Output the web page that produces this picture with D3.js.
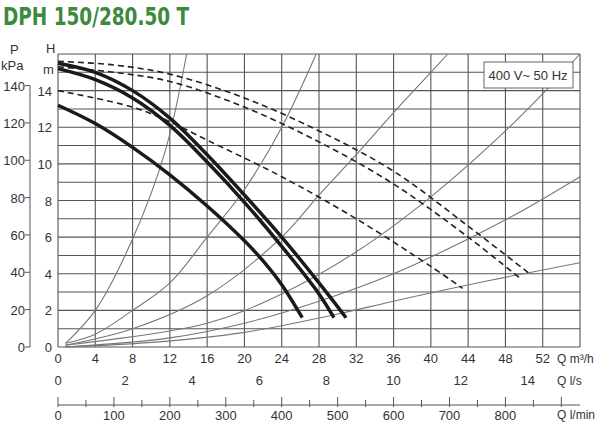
<!DOCTYPE html>
<html>
<head>
<meta charset="utf-8">
<script src="https://cdn.jsdelivr.net/npm/d3@7"></script>
<style>
  body { margin: 0; background: #fff; }
  text { font-family: "Liberation Sans", Arial, sans-serif; fill: #333; }
</style>
</head>
<body>
<script>
// pump curves, [Q m3/h, H m]
var solidTop = [[0,15.5],[4,15.0],[8,14.0],[12,12.5],[16,10.5],[20,8.3],[24,6.0],[28,3.5],[30.9,1.6]];
var solidMid = [[0,15.2],[4,14.6],[8,13.6],[12,12.1],[16,10.1],[20,7.9],[24,5.5],[28,2.9],[29.6,1.6]];
var solidLow = [[0,13.2],[4,12.2],[8,10.9],[12,9.4],[16,7.7],[20,5.8],[22,4.7],[24,3.4],[26.2,1.6]];
var dashTop = [[0,15.6],[6,15.4],[12,14.9],[20,13.6],[28,11.8],[36,9.6],[44,6.6],[50.6,4.0]];
var dashMid = [[0,15.3],[6,15.0],[12,14.5],[20,13.1],[28,11.2],[36,8.9],[44,6.0],[49.7,3.7]];
var dashLow = [[0,14.0],[8,13.1],[12,12.3],[16,11.3],[24,9.3],[32,7.0],[40,4.4],[43.4,3.2]];
// system curves
var sysA = [[0.8,0.2],[4,2.0],[8,5.9],[11.5,10.7],[13.8,16]];
var sysB = [[0.8,0.2],[4,0.7],[8,2.0],[12,3.5],[16,6.0],[20,8.6],[24,12.0],[27.7,16]];
var sysC = [[0.8,0.1],[8,1.0],[16,2.8],[24,6.0],[28,8.3],[32,10.5],[36,12.8],[40,15.0],[41.8,16]];
var sysD = [[0.8,0.1],[16,1.3],[24,2.9],[32,5.2],[40,8.2],[48,11.8],[52.5,14.1],[56,16]];
var sysE = [[0.8,0],[12,0.5],[20,1.3],[28,2.5],[36,4.0],[44,5.9],[50,7.5],[56,9.3]];
var sysF = [[0.8,0],[10,0.25],[20,0.8],[30,1.8],[36,2.5],[46,3.6],[56,4.6]];

var qTicks = [0,4,8,12,16,20,24,28,32,36,40,44,48,52];
var lsTicks = [0,2,4,6,8,10,12,14];
var lminTicks = [0,100,200,300,400,500,600,700,800];
var hTicks = [0,2,4,6,8,10,12,14];
var kpaTicks = [0,20,40,60,80,100,120,140];

var W = 600, H = 427;
var svg = d3.select("body").append("svg").attr("width", W).attr("height", H);

var x = d3.scaleLinear().domain([0, 56]).range([58, 580]);
var y = d3.scaleLinear().domain([0, 16]).range([347, 54]);
var xls = d3.scaleLinear().domain([0, 56 / 3.6]).range([58, 580]);
var xlm = d3.scaleLinear().domain([0, 56 / 0.06]).range([58, 580]);
var ykpa = d3.scaleLinear().domain([0, 16 / 0.10197]).range([347, 54]);

svg.append("text").attr("transform", "translate(3,25) scale(0.82,1)")
  .style("font-family", "'DejaVu Sans Condensed', sans-serif")
  .style("font-weight", "bold").style("font-size", "25px").style("fill", "#3b8a3e")
  .text("DPH 150/280.50 T");

// grid
var grid = svg.append("g").attr("stroke", "#555").attr("stroke-width", 1.1);
grid.selectAll(".v").data(d3.range(0, 57, 4)).enter().append("line")
  .attr("x1", d => x(d)).attr("x2", d => x(d)).attr("y1", y(0)).attr("y2", y(16));
grid.selectAll(".h").data(d3.range(0, 17, 1)).enter().append("line")
  .attr("x1", x(0)).attr("x2", x(56)).attr("y1", d => y(d)).attr("y2", d => y(d));

var line = d3.line().x(d => x(d[0])).y(d => y(d[1])).curve(d3.curveCatmullRom);

var plot = svg.append("g");
[sysA, sysB, sysC, sysD, sysE, sysF].forEach(function (c) {
  plot.append("path").attr("d", line(c)).attr("fill", "none")
    .attr("stroke", "#777").attr("stroke-width", 1.1);
});
[dashTop, dashMid, dashLow].forEach(function (c) {
  plot.append("path").attr("d", line(c)).attr("fill", "none")
    .attr("stroke", "#222").attr("stroke-width", 1.6).attr("stroke-dasharray", "6,4");
});
[solidTop, solidMid, solidLow].forEach(function (c) {
  plot.append("path").attr("d", line(c)).attr("fill", "none")
    .attr("stroke", "#1a1a1a").attr("stroke-width", 3.5);
});

// legend box
svg.append("rect").attr("x", 484).attr("y", 62).attr("width", 89).attr("height", 26)
  .attr("fill", "#fff").attr("stroke", "#666");
svg.append("text").attr("x", 528).attr("y", 80).attr("text-anchor", "middle")
  .style("font-size", "13px").text("400 V~ 50 Hz");

// left axes
var fs = "13px";
svg.selectAll(".hl").data(hTicks).enter().append("text")
  .attr("x", 52).attr("y", d => y(d) + 5).attr("text-anchor", "end")
  .style("font-size", fs).text(d => d);
svg.append("text").attr("x", 46).attr("y", 53).style("font-size", fs).text("H");
svg.append("text").attr("x", 43).attr("y", 74).style("font-size", fs).text("m");

svg.append("line").attr("x1", 30).attr("x2", 30).attr("y1", ykpa(0)).attr("y2", ykpa(140))
  .attr("stroke", "#555");
svg.selectAll(".kt").data(kpaTicks).enter().append("line")
  .attr("x1", 25).attr("x2", 30).attr("y1", d => ykpa(d)).attr("y2", d => ykpa(d))
  .attr("stroke", "#555");
svg.selectAll(".kl").data(kpaTicks).enter().append("text")
  .attr("x", 25).attr("y", d => ykpa(d) + 5).attr("text-anchor", "end")
  .style("font-size", fs).text(d => d);
svg.append("text").attr("x", 10).attr("y", 54).style("font-size", fs).text("P");
svg.append("text").attr("x", 1).attr("y", 70).style("font-size", fs).text("kPa");

// bottom axes
svg.selectAll(".ql").data(qTicks).enter().append("text")
  .attr("x", d => x(d)).attr("y", 363).attr("text-anchor", "middle")
  .style("font-size", fs).text(d => d);
svg.append("text").attr("x", 557).attr("y", 363).style("font-size", "12px").text("Q m³/h");

svg.selectAll(".ls").data(lsTicks).enter().append("text")
  .attr("x", d => xls(d)).attr("y", 385).attr("text-anchor", "middle")
  .style("font-size", fs).text(d => d);
svg.append("text").attr("x", 557).attr("y", 385).style("font-size", "12px").text("Q l/s");

svg.append("line").attr("x1", x(0)).attr("x2", x(56)).attr("y1", 405).attr("y2", 405)
  .attr("stroke", "#555");
svg.selectAll(".lt").data(d3.range(0, 901, 50)).enter().append("line")
  .attr("x1", d => xlm(d)).attr("x2", d => xlm(d))
  .attr("y1", d => d % 100 === 0 ? 397 : 400).attr("y2", 407)
  .attr("stroke", "#555");
svg.selectAll(".lm").data(lminTicks).enter().append("text")
  .attr("x", d => xlm(d)).attr("y", 420).attr("text-anchor", "middle")
  .style("font-size", fs).text(d => d);
svg.append("text").attr("x", 557).attr("y", 419).style("font-size", "12px").text("Q l/min");
</script>
</body>
</html>
